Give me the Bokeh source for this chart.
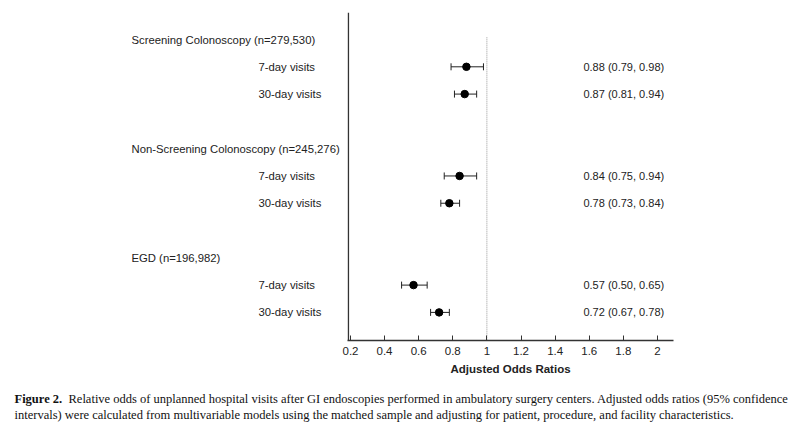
from bokeh.plotting import figure
from bokeh.layouts import column, row
from bokeh.models import (Range1d, Span, FixedTicker, NumeralTickFormatter,
                          ColumnDataSource, Whisker, TeeHead)
from bokeh.core.properties import value
from bokeh.embed import file_html
from bokeh.resources import INLINE

# ---------------- data ----------------
groups = ["Screening Colonoscopy (n=279,530)",
          "Non-Screening Colonoscopy (n=245,276)",
          "EGD (n=196,982)"]
visit_labels = ["7-day visits", "30-day visits"]
or_est = [[0.88, 0.87], [0.84, 0.78], [0.57, 0.72]]
ci_low = [[0.79, 0.81], [0.75, 0.73], [0.50, 0.67]]
ci_high = [[0.98, 0.94], [0.94, 0.84], [0.65, 0.78]]
x_ticks = [0.2, 0.4, 0.6, 0.8, 1.0, 1.2, 1.4, 1.6, 1.8, 2.0]
ref_value = 1.0
x_label = "Adjusted Odds Ratios"
caption_bold = "Figure 2."
caption_line1 = ("Relative odds of unplanned hospital visits after GI endoscopies performed "
                 "in ambulatory surgery centers. Adjusted odds ratios (95% confidence")
caption_line2 = ("intervals) were calculated from multivariable models using the matched "
                 "sample and adjusting for patient, procedure, and facility characteristics.")

# ---------------- build rows ----------------
hdr_y, hdr_txt = [], []
row_y, row_txt, est, lo, hi, est_txt = [], [], [], [], [], []
for g, name in enumerate(groups):
    base = 4 * g
    hdr_y.append(base)
    hdr_txt.append(name)
    for k, vl in enumerate(visit_labels):
        row_y.append(base + 1 + k)
        row_txt.append(vl)
        est.append(or_est[g][k])
        lo.append(ci_low[g][k])
        hi.append(ci_high[g][k])
        est_txt.append(f"{or_est[g][k]:.2f} ({ci_low[g][k]:.2f}, {ci_high[g][k]:.2f})")

src = ColumnDataSource(dict(y=row_y, x=est, lo=lo, hi=hi, lab=row_txt, et=est_txt))
hsrc = ColumnDataSource(dict(y=hdr_y, t=hdr_txt))

FONT = "Liberation Sans"
SERIF = "Liberation Serif"
DARK = "#222222"

yr = Range1d(11.03, -0.99)
CH = 380          # chart height
TOP, BOT = 12, 40


def clean(f):
    f.outline_line_color = None
    f.grid.visible = False
    f.background_fill_color = "white"
    f.border_fill_color = "white"
    f.min_border_right = f.min_border_right if f.min_border_right is not None else 0


# ---------------- left label panel ----------------
left = figure(width=342, height=CH, output_backend="svg", toolbar_location=None,
              x_range=Range1d(0, 342), y_range=yr, x_axis_location=None, y_axis_location=None,
              min_border_left=0, min_border_right=0, min_border_top=TOP, min_border_bottom=BOT)
clean(left)
left.text(x=131, y="y", text="t", source=hsrc, text_font=value(FONT),
          text_font_size="11.3px", text_baseline="middle", text_align="left", text_color=DARK)
left.text(x=258, y="y", text="lab", source=src, text_font=value(FONT),
          text_font_size="11.3px", text_baseline="middle", text_align="left", text_color=DARK)

# ---------------- main forest plot ----------------
p = figure(width=456, height=CH, output_backend="svg", toolbar_location=None,
           x_range=Range1d(0.183, 0.183 + 326 / 170.6), y_range=yr, y_axis_location=None,
           min_border_left=5, min_border_right=125, min_border_top=TOP, min_border_bottom=BOT)
clean(p)

xa = p.xaxis[0]
xa.ticker = FixedTicker(ticks=x_ticks)
xa.formatter = NumeralTickFormatter(format="0.[0]")
xa.major_tick_in = 5
xa.major_tick_out = 0
xa.minor_tick_line_color = None
xa.axis_line_color = "#333333"
xa.axis_line_width = 1.5
xa.major_tick_line_color = "#333333"
xa.major_label_text_font = FONT
xa.major_label_text_font_size = "11.5px"
xa.major_label_text_color = DARK
xa.major_label_standoff = 6
xa.axis_label = x_label
xa.axis_label_text_font = FONT
xa.axis_label_text_font_size = "11.5px"
xa.axis_label_text_font_style = "bold"
xa.axis_label_text_color = DARK
xa.axis_label_standoff = 5

# left axis line
p.add_layout(Span(location=0.188, dimension="height", line_color="#333333", line_width=1.5))
# reference line at OR = 1
p.segment(x0=[ref_value], y0=[-0.08], x1=[ref_value], y1=[11.2],
          line_color="#999999", line_width=1, line_dash="1 1")

# confidence intervals and estimates
p.add_layout(Whisker(source=src, base="y", lower="lo", upper="hi", dimension="width",
                     line_color=DARK, line_width=1,
                     upper_head=TeeHead(size=7, line_color=DARK, line_width=1),
                     lower_head=TeeHead(size=7, line_color=DARK, line_width=1)))
p.scatter("x", "y", source=src, size=7.5, color="black")

p.text(x=1.566, y="y", text="et", source=src, text_font=value(FONT),
       text_font_size="11px", text_baseline="middle", text_align="left", text_color=DARK)

# ---------------- caption ----------------
cap = figure(width=798, height=46, output_backend="svg", toolbar_location=None,
             x_range=Range1d(0, 798), y_range=Range1d(46, 0),
             x_axis_location=None, y_axis_location=None,
             min_border_left=0, min_border_right=0, min_border_top=0, min_border_bottom=0)
clean(cap)
cap_kw = dict(text_font=value(SERIF), text_font_size="12.5px", text_baseline="middle",
              text_align="left", text_color="#111111")
cap.text(x=[14], y=[18], text=[caption_bold], text_font_style="bold", **cap_kw)
cap.text(x=[68], y=[18], text=[caption_line1], **cap_kw)
cap.text(x=[14], y=[34], text=[caption_line2], **cap_kw)

layout = column(row(left, p, spacing=0), cap, spacing=0)
open("out.html", "w").write(file_html(layout, INLINE))
